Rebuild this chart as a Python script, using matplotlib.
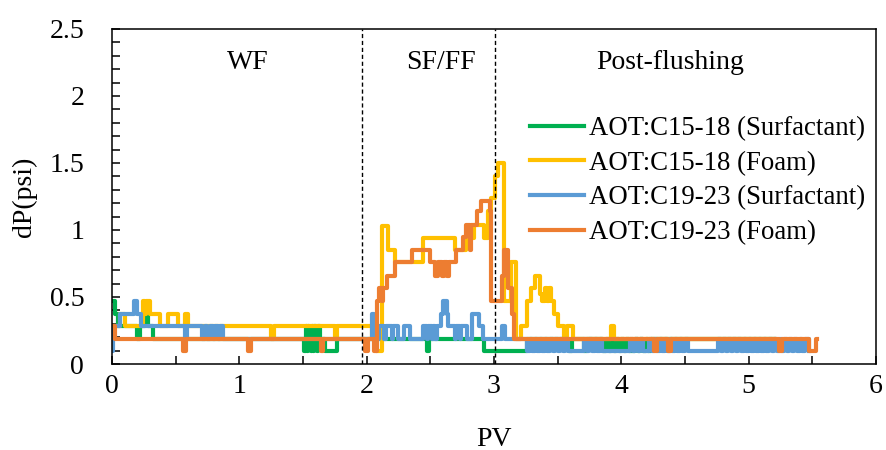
import matplotlib
matplotlib.use('Agg')
import matplotlib.pyplot as plt

plt.rcParams['font.family'] = ['Liberation Serif', 'DejaVu Serif']

# AOT:C15-18 (Surfactant)
green_pv = [0.0, 0.02, 0.05, 0.2, 0.22, 0.26, 0.28, 0.32,
            1.51, 1.52, 1.53, 1.54, 1.55, 1.56, 1.57, 1.58, 1.59, 1.6, 1.61, 1.62, 1.63,
            1.67, 1.77, 2.47, 2.49, 2.92, 3.26,
            3.59, 3.61, 3.71, 3.73,
            3.86, 3.88, 3.9, 3.92, 3.94, 3.96, 3.98, 4.0, 4.02, 4.04, 4.06,
            4.11, 4.13, 4.15, 4.17, 4.19, 4.21, 4.23, 5.2]
green_dp = [0.47, 0.37, 0.28, 0.19, 0.28, 0.37, 0.28, 0.19,
            0.1, 0.28, 0.1, 0.28, 0.19, 0.1, 0.28, 0.1, 0.28, 0.19, 0.1, 0.28, 0.19,
            0.1, 0.19, 0.1, 0.19, 0.1, 0.19,
            0.1, 0.19, 0.1, 0.19,
            0.1, 0.19, 0.1, 0.19, 0.1, 0.19, 0.1, 0.19, 0.1, 0.19, 0.1,
            0.19, 0.1, 0.19, 0.1, 0.19, 0.1, 0.19, 0.19]

# AOT:C15-18 (Foam)
yellow_pv = [0.0, 0.06, 0.1, 0.24, 0.26, 0.27, 0.3, 0.38, 0.44, 0.52, 0.57, 0.6,
             1.25, 1.27, 1.75, 1.77, 2.04, 2.07, 2.12, 2.17, 2.22, 2.44, 2.69, 2.78,
             2.84, 2.92, 2.95, 2.98, 3.01, 3.03, 3.08, 3.13, 3.17, 3.21, 3.26, 3.29,
             3.32, 3.36, 3.38, 3.4, 3.42, 3.43, 3.45, 3.47, 3.5, 3.55, 3.57, 3.62,
             3.92, 3.94, 5.2]
yellow_dp = [0.28, 0.37, 0.28, 0.47, 0.37, 0.47, 0.37, 0.28, 0.37, 0.28, 0.37, 0.28,
             0.19, 0.28, 0.19, 0.28, 0.19, 0.1, 1.03, 0.85, 0.76, 0.94, 0.85, 0.94,
             1.04, 0.94, 1.14, 1.24, 1.4, 1.5, 0.47, 0.76, 0.19, 0.28, 0.47, 0.57,
             0.66, 0.52, 0.47, 0.57, 0.47, 0.57, 0.47, 0.37, 0.28, 0.19, 0.28, 0.19,
             0.28, 0.19, 0.19]

# AOT:C19-23 (Surfactant)
blue_pv = [0.0, 0.01, 0.06, 0.17, 0.2, 0.23, 0.57, 0.59,
           0.71, 0.73, 0.75, 0.77, 0.79, 0.81, 0.83, 0.85, 0.87,
           2.04, 2.06, 2.1, 2.14, 2.15, 2.2, 2.21, 2.25, 2.29, 2.34,
           2.44, 2.47, 2.48, 2.51, 2.52, 2.54, 2.55, 2.58, 2.6, 2.63, 2.64, 2.69, 2.7,
           2.73, 2.74, 2.79, 2.83, 2.88, 2.91, 3.06, 3.09,
           3.26, 3.28, 3.3, 3.32, 3.34, 3.36, 3.38, 3.4, 3.42, 3.44, 3.46, 3.48, 3.5,
           3.52, 3.54, 3.56, 3.58,
           3.71, 3.73, 3.75, 3.77, 3.79, 3.81, 3.83, 3.85,
           4.07, 4.09, 4.11, 4.13, 4.15, 4.17,
           4.22, 4.24, 4.26, 4.28, 4.3, 4.32, 4.34, 4.36, 4.38, 4.4, 4.42, 4.44, 4.46,
           4.48, 4.5, 4.52, 4.54,
           4.76, 4.78, 4.8, 4.82, 4.84, 4.86, 4.88, 4.9, 4.92, 4.94, 4.96, 4.98, 5.0,
           5.02, 5.04, 5.06, 5.08, 5.1, 5.12, 5.14, 5.16, 5.18, 5.2, 5.22, 5.24, 5.26,
           5.28, 5.3, 5.32, 5.34, 5.36, 5.38, 5.4, 5.42, 5.44, 5.47]
blue_dp = [0.1, 0.28, 0.37, 0.47, 0.37, 0.28, 0.19, 0.28,
           0.19, 0.28, 0.19, 0.28, 0.19, 0.28, 0.19, 0.28, 0.19,
           0.37, 0.19, 0.28, 0.19, 0.28, 0.19, 0.28, 0.19, 0.28, 0.19,
           0.28, 0.19, 0.28, 0.19, 0.28, 0.19, 0.28, 0.37, 0.47, 0.37, 0.28, 0.19, 0.28,
           0.19, 0.28, 0.19, 0.37, 0.28, 0.19, 0.28, 0.19,
           0.1, 0.19, 0.1, 0.19, 0.1, 0.19, 0.1, 0.19, 0.1, 0.19, 0.1, 0.19, 0.1,
           0.19, 0.1, 0.19, 0.1,
           0.19, 0.1, 0.19, 0.1, 0.19, 0.1, 0.19, 0.1,
           0.19, 0.1, 0.19, 0.1, 0.19, 0.1,
           0.19, 0.1, 0.19, 0.1, 0.19, 0.1, 0.19, 0.1, 0.19, 0.1, 0.19, 0.1, 0.19,
           0.1, 0.19, 0.1, 0.1,
           0.19, 0.1, 0.19, 0.1, 0.19, 0.1, 0.19, 0.1, 0.19, 0.1, 0.19, 0.1, 0.19,
           0.1, 0.19, 0.1, 0.19, 0.1, 0.19, 0.1, 0.19, 0.1, 0.19, 0.1, 0.19, 0.1,
           0.19, 0.1, 0.19, 0.1, 0.19, 0.1, 0.19, 0.1, 0.19, 0.1]

# AOT:C19-23 (Foam)
orange_pv = [0.0, 0.02, 0.56, 0.58, 1.07, 1.09, 1.64, 1.66, 1.99, 2.01, 2.06, 2.08,
             2.1, 2.12, 2.13, 2.16, 2.22, 2.36, 2.5, 2.54, 2.56, 2.59, 2.61, 2.63,
             2.65, 2.7, 2.76, 2.78, 2.81, 2.82, 2.87, 2.9, 2.97, 2.98, 3.06, 3.08,
             3.11, 3.14, 3.16, 4.26, 4.28, 4.37, 4.39, 5.24, 5.26, 5.47, 5.53, 5.54]
orange_dp = [0.28, 0.19, 0.1, 0.19, 0.1, 0.19, 0.1, 0.19, 0.1, 0.19, 0.1, 0.47,
             0.57, 0.47, 0.57, 0.66, 0.76, 0.85, 0.76, 0.66, 0.76, 0.66, 0.76, 0.66,
             0.76, 0.85, 0.95, 1.04, 0.85, 1.04, 1.14, 1.22, 1.14, 0.47, 0.66, 0.85,
             0.57, 0.37, 0.19, 0.1, 0.19, 0.1, 0.19, 0.1, 0.19, 0.1, 0.19, 0.19]

labels = ['AOT:C15-18 (Surfactant)', 'AOT:C15-18 (Foam)',
          'AOT:C19-23 (Surfactant)', 'AOT:C19-23 (Foam)']
colors = ['#00B050', '#FFC000', '#5B9BD5', '#ED7D31']
stage_bounds = [1.96, 3.01]
stage_names = ['WF', 'SF/FF', 'Post-flushing']
stage_pos = [1.07, 2.585, 4.38]

fig = plt.figure(figsize=(8.86, 4.5), dpi=100)
ax = fig.add_axes([0.1264, 0.1911, 0.8623, 0.7445])

series = [(green_pv, green_dp), (yellow_pv, yellow_dp),
          (blue_pv, blue_dp), (orange_pv, orange_dp)]
for (pv, dp), lab, col in zip(series, labels, colors):
    ax.plot(pv, dp, drawstyle='steps-post', color=col, lw=3.0, label=lab)

for xb in stage_bounds:
    ax.axvline(xb, color='black', lw=1.0, linestyle=(0, (3, 2)), zorder=5)

for name, xp in zip(stage_names, stage_pos):
    ax.text(xp, 2.25, name, ha='center', va='center', fontsize=20)

ax.set_xlim(0, 6)
ax.set_ylim(0, 2.5)
ax.set_xticks([0, 1, 2, 3, 4, 5, 6])
ax.set_xticks([0.5, 1.5, 2.5, 3.5, 4.5, 5.5], minor=True)
ax.set_yticks([0, 0.5, 1, 1.5, 2, 2.5])
ax.set_yticklabels(['0', '0.5', '1', '1.5', '2', '2.5'])
ax.set_yticks([i / 10 for i in range(26)], minor=True)
ax.tick_params(which='both', direction='in', length=6, width=1.1,
               top=False, right=False)
ax.tick_params(axis='y', which='major', pad=20, labelsize=20)
ax.tick_params(axis='x', which='major', pad=7, labelsize=20)
for sp in ax.spines.values():
    sp.set_linewidth(1.1)

ax.set_xlabel('PV', fontsize=20, labelpad=20)
ax.set_ylabel('dP(psi)', fontsize=20, labelpad=9)

ax.legend(loc='upper left', bbox_to_anchor=(0.547, 0.74), frameon=False,
          fontsize=19.3, handlelength=2.0, handletextpad=0.2, labelspacing=0.36,
          borderpad=0, borderaxespad=0)

fig.savefig('out.png', dpi=100)
